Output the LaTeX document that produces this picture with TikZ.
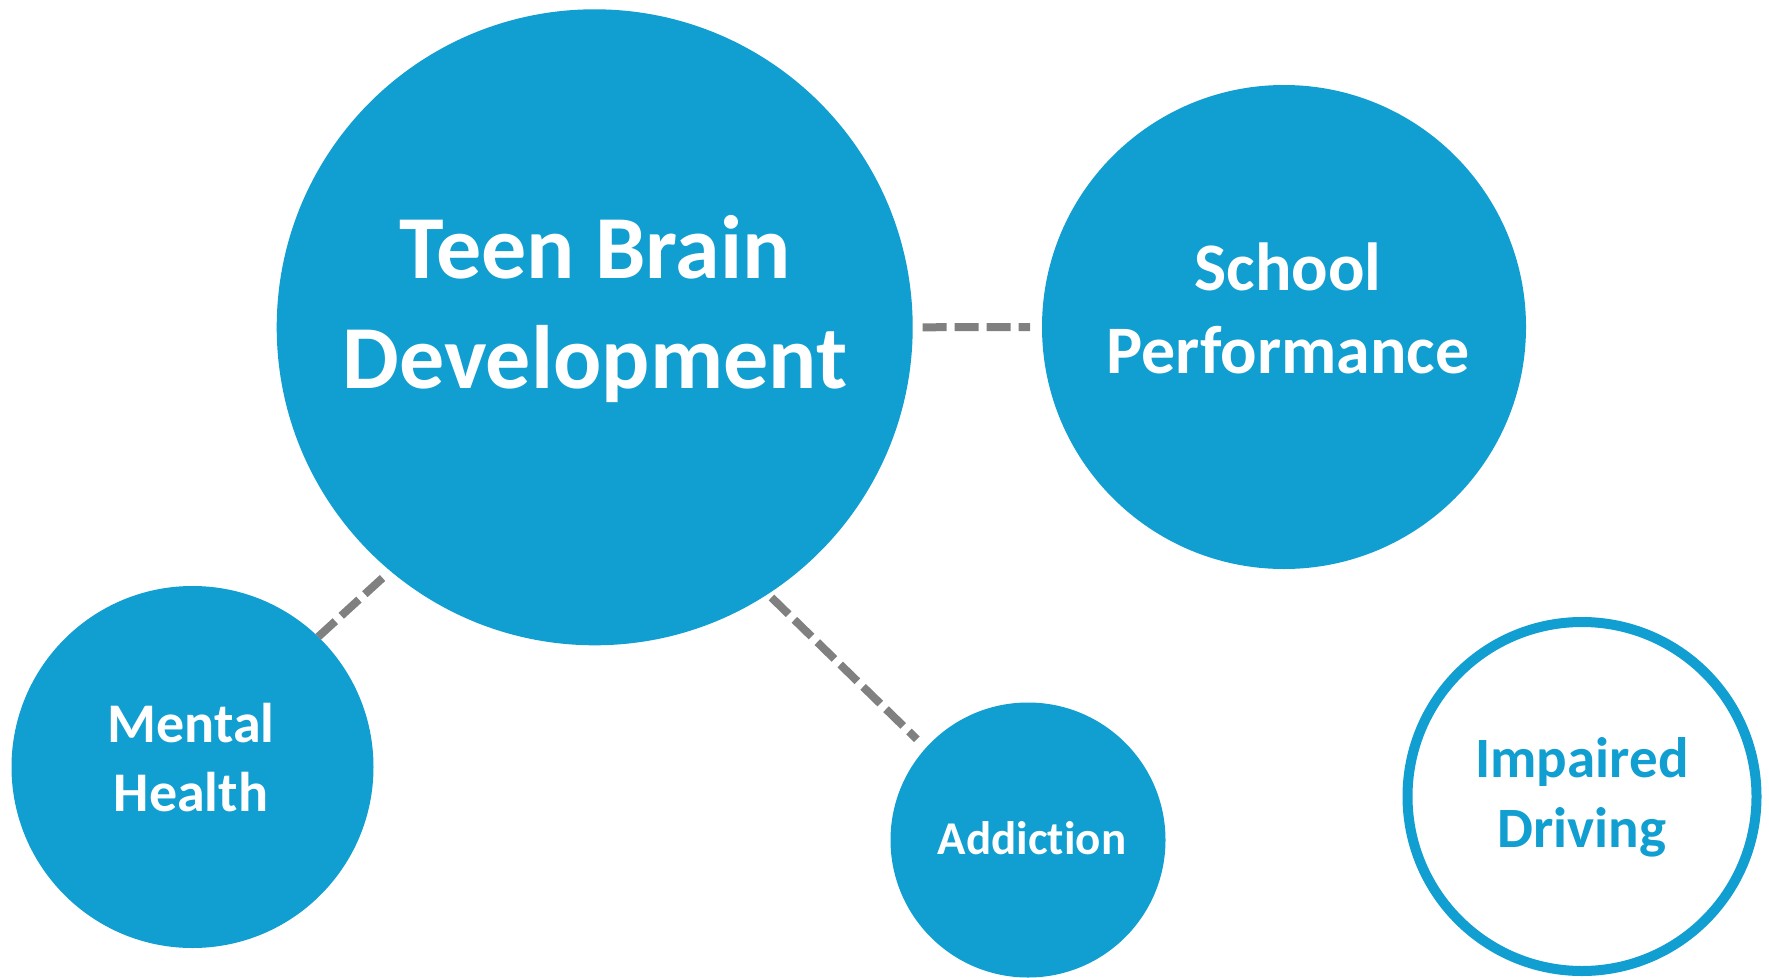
\documentclass[tikz,border=0pt]{standalone}
\usepackage{fontspec}
\setmainfont{Carlito}[Ligatures={NoCommon}]
\definecolor{topicblue}{RGB}{17,158,209}
\definecolor{linkgray}{RGB}{128,128,128}
\tikzset{
  bubble/.style={circle, fill=topicblue, draw=none, inner sep=0pt, outer sep=0pt},
  ringbubble/.style={circle, draw=topicblue, line width=10pt, fill=white, inner sep=0pt, outer sep=0pt},
  bubbletext/.style={align=center, anchor=base, inner sep=0pt, text=white, font=\bfseries},
  link/.style={draw=linkgray, line width=8pt, dash pattern=on 24pt off 8pt, line cap=butt},
}
\newcommand{\fsz}[1]{\fontsize{#1}{1.22\dimexpr #1pt\relax}\selectfont\bfseries}
\begin{document}
\begin{tikzpicture}[x=1pt, y=-1pt]
  \useasboundingbox (0,0) rectangle (1769,977);

  % topic circles
  \node[bubble, minimum size=636pt] (big) at (594.7,327.3) {};
  \node[bubble, minimum size=484pt] (school) at (1284,327) {};
  \node[bubble, minimum size=362pt] (mental) at (192.5,767) {};
  \node[bubble, minimum size=275pt] (add) at (1028,840) {};
  \node[ringbubble, minimum size=349pt] (drive) at (1582,796.5) {};

  % labels
  \node[bubbletext, font=\fsz{90}] (bigtxt) at (595,388) {Teen Brain\\Development};
  \node[bubbletext, font=\fsz{68}] (schooltxt) at (1288,373) {School\\Performance};
  \node[bubbletext, font=\fsz{56}] (mentaltxt) at (191,811) {Mental\\Health};
  \node[bubbletext, font=\fsz{47}] (addtxt) at (1032,854) {Addiction};
  \node[bubbletext, font=\fsz{57}, text=topicblue] (drivetxt) at (1582,847) {Impaired\\Driving};

  % dashed links from the central topic
  \draw[link, shorten <=10pt, shorten >=12pt] (big.0) -- (school.180);
  \draw[link, shorten <=10.5pt] (big.-130) -- (mental.46);
  \draw[link, shorten <=5pt, shorten >=12.5pt] (big.-57) -- (add.138);
\end{tikzpicture}
\end{document}
